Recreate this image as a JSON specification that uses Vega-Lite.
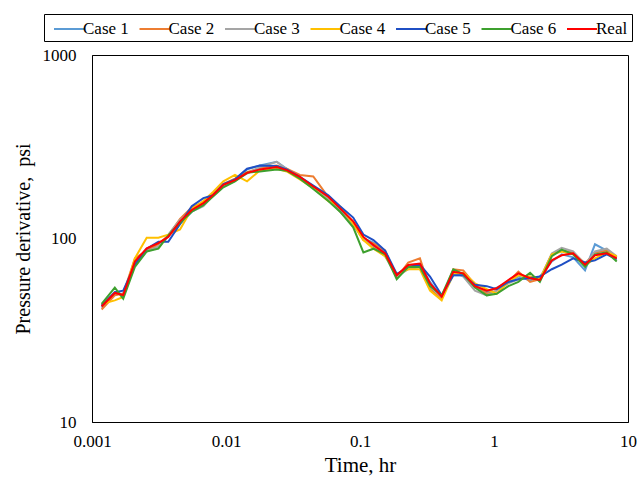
{
  "$schema": "https://vega.github.io/schema/vega-lite/v6.json",
  "width": 536,
  "height": 367,
  "autosize": {"type": "none"},
  "padding": {"left": 92, "top": 55, "right": 15, "bottom": 55},
  "background": "white",
  "config": {
    "font": "Liberation Serif",
    "view": {"stroke": "#000", "strokeWidth": 1},
    "axis": {
      "grid": false,
      "ticks": false,
      "domainColor": "#000",
      "domainWidth": 1,
      "labelFont": "Liberation Serif",
      "labelFontSize": 17,
      "labelColor": "#000",
      "titleFont": "Liberation Serif",
      "titleFontSize": 20,
      "titleFontWeight": "normal",
      "titleColor": "#000"
    }
  },
  "data": {
    "values": [
      {"t": 0.00118, "Case 1": 42, "Case 2": 41, "Case 3": 43, "Case 4": 44, "Case 5": 43, "Case 6": 44, "Real": 42.6},
      {"t": 0.00148, "Case 1": 50, "Case 2": 49, "Case 3": 51, "Case 4": 46, "Case 5": 51, "Case 6": 54, "Real": 50.5},
      {"t": 0.00171, "Case 1": 50, "Case 2": 50, "Case 3": 49, "Case 4": 48, "Case 5": 52, "Case 6": 47, "Real": 49.2},
      {"t": 0.00209, "Case 1": 72, "Case 2": 78, "Case 3": 72, "Case 4": 78, "Case 5": 72, "Case 6": 70, "Real": 74.8},
      {"t": 0.00256, "Case 1": 87, "Case 2": 86, "Case 3": 85, "Case 4": 101, "Case 5": 88, "Case 6": 85, "Real": 88.5},
      {"t": 0.00313, "Case 1": 90, "Case 2": 93, "Case 3": 90, "Case 4": 101, "Case 5": 96, "Case 6": 88, "Real": 94.3},
      {"t": 0.00371, "Case 1": 103, "Case 2": 104, "Case 3": 105, "Case 4": 105, "Case 5": 96, "Case 6": 104, "Real": 102},
      {"t": 0.00454, "Case 1": 120, "Case 2": 128, "Case 3": 126, "Case 4": 112, "Case 5": 120, "Case 6": 122, "Real": 124},
      {"t": 0.00555, "Case 1": 140, "Case 2": 148, "Case 3": 140, "Case 4": 145, "Case 5": 150, "Case 6": 140, "Real": 143},
      {"t": 0.00678, "Case 1": 152, "Case 2": 158, "Case 3": 150, "Case 4": 160, "Case 5": 166, "Case 6": 152, "Real": 156},
      {"t": 0.00804, "Case 1": 175, "Case 2": 176, "Case 3": 172, "Case 4": 180, "Case 5": 172, "Case 6": 170, "Real": 173},
      {"t": 0.00955, "Case 1": 195, "Case 2": 198, "Case 3": 192, "Case 4": 205, "Case 5": 198, "Case 6": 190, "Real": 196},
      {"t": 0.01167, "Case 1": 210, "Case 2": 212, "Case 3": 206, "Case 4": 222, "Case 5": 210, "Case 6": 205, "Real": 208},
      {"t": 0.01436, "Case 1": 238, "Case 2": 230, "Case 3": 226, "Case 4": 205, "Case 5": 240, "Case 6": 228, "Real": 228},
      {"t": 0.0179, "Case 1": 250, "Case 2": 242, "Case 3": 245, "Case 4": 235, "Case 5": 250, "Case 6": 232, "Real": 238},
      {"t": 0.0239, "Case 1": 262, "Case 2": 250, "Case 3": 262, "Case 4": 240, "Case 5": 248, "Case 6": 238, "Real": 245},
      {"t": 0.0284, "Case 1": 240, "Case 2": 240, "Case 3": 238, "Case 4": 232, "Case 5": 238, "Case 6": 234, "Real": 236},
      {"t": 0.0356, "Case 1": 214, "Case 2": 222, "Case 3": 214, "Case 4": 210, "Case 5": 217, "Case 6": 212, "Real": 217},
      {"t": 0.0448, "Case 1": 190, "Case 2": 218, "Case 3": 190, "Case 4": 188, "Case 5": 194, "Case 6": 186, "Real": 192},
      {"t": 0.058, "Case 1": 166, "Case 2": 168, "Case 3": 165, "Case 4": 160, "Case 5": 172, "Case 6": 160, "Real": 169},
      {"t": 0.071, "Case 1": 144, "Case 2": 140, "Case 3": 140, "Case 4": 150, "Case 5": 150, "Case 6": 140, "Real": 146},
      {"t": 0.089, "Case 1": 122, "Case 2": 120, "Case 3": 118, "Case 4": 120, "Case 5": 130, "Case 6": 115, "Real": 124},
      {"t": 0.106, "Case 1": 100, "Case 2": 98, "Case 3": 100, "Case 4": 98, "Case 5": 105, "Case 6": 84, "Real": 102},
      {"t": 0.126, "Case 1": 95, "Case 2": 94, "Case 3": 90, "Case 4": 88, "Case 5": 98, "Case 6": 88, "Real": 92},
      {"t": 0.154, "Case 1": 84, "Case 2": 86, "Case 3": 80, "Case 4": 80, "Case 5": 86, "Case 6": 82, "Real": 83},
      {"t": 0.188, "Case 1": 62, "Case 2": 61, "Case 3": 62, "Case 4": 64, "Case 5": 64, "Case 6": 60, "Real": 63},
      {"t": 0.229, "Case 1": 70, "Case 2": 74, "Case 3": 68, "Case 4": 68, "Case 5": 70, "Case 6": 70, "Real": 71.8},
      {"t": 0.28, "Case 1": 72, "Case 2": 78, "Case 3": 70, "Case 4": 68, "Case 5": 72, "Case 6": 70, "Real": 73},
      {"t": 0.333, "Case 1": 58, "Case 2": 53, "Case 3": 55, "Case 4": 52, "Case 5": 62, "Case 6": 55, "Real": 57},
      {"t": 0.407, "Case 1": 48, "Case 2": 47, "Case 3": 48, "Case 4": 46, "Case 5": 49, "Case 6": 49, "Real": 48.2},
      {"t": 0.497, "Case 1": 63, "Case 2": 68, "Case 3": 66, "Case 4": 64, "Case 5": 63, "Case 6": 68, "Real": 65.9},
      {"t": 0.59, "Case 1": 63, "Case 2": 67, "Case 3": 62, "Case 4": 65, "Case 5": 63, "Case 6": 64, "Real": 64.6},
      {"t": 0.721, "Case 1": 55, "Case 2": 56, "Case 3": 52, "Case 4": 57, "Case 5": 56, "Case 6": 54, "Real": 55},
      {"t": 0.883, "Case 1": 51, "Case 2": 50, "Case 3": 49, "Case 4": 53, "Case 5": 55, "Case 6": 49, "Real": 52},
      {"t": 1.047, "Case 1": 54, "Case 2": 52, "Case 3": 52, "Case 4": 50, "Case 5": 53, "Case 6": 50, "Real": 53.6},
      {"t": 1.28, "Case 1": 58, "Case 2": 58, "Case 3": 57, "Case 4": 58, "Case 5": 58, "Case 6": 55, "Real": 59.4},
      {"t": 1.52, "Case 1": 62, "Case 2": 66, "Case 3": 60, "Case 4": 63, "Case 5": 60, "Case 6": 58, "Real": 64.6},
      {"t": 1.86, "Case 1": 59, "Case 2": 58, "Case 3": 62, "Case 4": 62, "Case 5": 61, "Case 6": 65, "Real": 60.7},
      {"t": 2.2, "Case 1": 62, "Case 2": 60, "Case 3": 60, "Case 4": 60, "Case 5": 62, "Case 6": 58, "Real": 59.4},
      {"t": 2.7, "Case 1": 75, "Case 2": 82, "Case 3": 83, "Case 4": 82, "Case 5": 68, "Case 6": 80, "Real": 76},
      {"t": 3.2, "Case 1": 82, "Case 2": 86, "Case 3": 89, "Case 4": 85, "Case 5": 72, "Case 6": 87, "Real": 81},
      {"t": 3.9, "Case 1": 79, "Case 2": 84, "Case 3": 85, "Case 4": 82, "Case 5": 78, "Case 6": 82, "Real": 83},
      {"t": 4.78, "Case 1": 67, "Case 2": 73, "Case 3": 72, "Case 4": 71, "Case 5": 74, "Case 6": 70, "Real": 72},
      {"t": 5.67, "Case 1": 93, "Case 2": 84, "Case 3": 85, "Case 4": 78, "Case 5": 76, "Case 6": 82, "Real": 81},
      {"t": 6.94, "Case 1": 86, "Case 2": 86, "Case 3": 88, "Case 4": 84, "Case 5": 82, "Case 6": 84, "Real": 83},
      {"t": 8.24, "Case 1": 79, "Case 2": 79, "Case 3": 80, "Case 4": 80, "Case 5": 77, "Case 6": 75, "Real": 78}
    ]
  },
  "transform": [
    {"fold": ["Case 1", "Case 2", "Case 3", "Case 4", "Case 5", "Case 6", "Real"], "as": ["series", "value"]}
  ],
  "mark": {"type": "line", "strokeWidth": 2, "clip": true},
  "encoding": {
    "x": {
      "field": "t",
      "type": "quantitative",
      "scale": {"type": "log", "domain": [0.001, 10]},
      "axis": {"title": "Time, hr", "titleFontSize": 21, "values": [0.001, 0.01, 0.1, 1, 10], "format": "~g", "labelPadding": 11, "titlePadding": 5, "labelFlush": false}
    },
    "y": {
      "field": "value",
      "type": "quantitative",
      "scale": {"type": "log", "domain": [10, 1000]},
      "axis": {"title": "Pressure derivative,\u00a0 psi", "values": [10, 100, 1000], "format": "~g", "labelPadding": 16, "titlePadding": 9, "labelFlush": false}
    },
    "color": {
      "field": "series",
      "type": "nominal",
      "scale": {
        "domain": ["Case 1", "Case 2", "Case 3", "Case 4", "Case 5", "Case 6", "Real"],
        "range": ["#5B9BD5", "#ED7D31", "#A5A5A5", "#FFC000", "#1F4FC4", "#3DA02E", "#FF0000"]
      },
      "legend": {
        "title": null,
        "orient": "none",
        "legendX": -48,
        "legendY": -41,
        "direction": "horizontal",
        "symbolType": "M-0.5,0L2.5,0",
        "symbolSize": 400,
        "symbolStrokeWidth": 2,
        "labelFont": "Liberation Serif",
        "labelFontSize": 17,
        "labelColor": "#000",
        "labelOffset": 13,
        "columnPadding": 4.5,
        "padding": 4,
        "strokeColor": "#000",
        "fillColor": "white"
      }
    }
  }
}
